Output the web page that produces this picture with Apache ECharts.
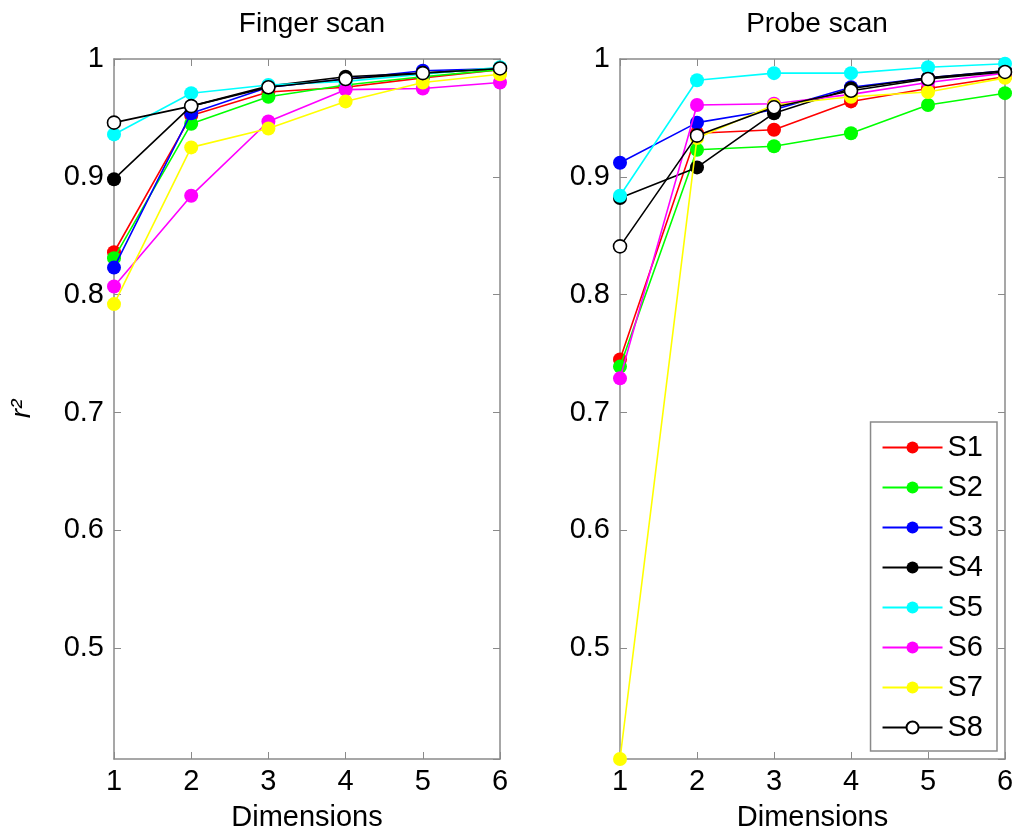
<!DOCTYPE html>
<html>
<head>
<meta charset="utf-8">
<script src="https://cdn.jsdelivr.net/npm/echarts@6/dist/echarts.min.js"></script>
<style>
  html, body { margin: 0; padding: 0; background: #fff; }
  #chart { width: 1020px; height: 840px; }
</style>
</head>
<body>
<div id="chart"></div>
<script>
// Dimensioni (asse x)
const dims = [1, 2, 3, 4, 5, 6];
const names = ['S1', 'S2', 'S3', 'S4', 'S5', 'S6', 'S7', 'S8'];
const colori = ['#ff0000', '#00ff00', '#0000ff', '#000000', '#00ffff', '#ff00ff', '#ffff00', '#000000'];

// Finger scan
const fingerS1 = [0.836, 0.952, 0.972, 0.976, 0.984, 0.991];
const fingerS2 = [0.831, 0.945, 0.968, 0.978, 0.985, 0.991];
const fingerS3 = [0.823, 0.954, 0.976, 0.983, 0.990, 0.992];
const fingerS4 = [0.898, 0.960, 0.977, 0.985, 0.988, 0.992];
const fingerS5 = [0.936, 0.971, 0.978, 0.981, 0.987, 0.993];
const fingerS6 = [0.807, 0.884, 0.947, 0.974, 0.975, 0.980];
const fingerS7 = [0.792, 0.925, 0.941, 0.964, 0.980, 0.987];
const fingerS8 = [0.946, 0.960, 0.976, 0.983, 0.988, 0.992];

// Probe scan
const probeS1 = [0.745, 0.937, 0.940, 0.964, 0.975, 0.985];
const probeS2 = [0.739, 0.923, 0.926, 0.937, 0.961, 0.971];
const probeS3 = [0.912, 0.946, 0.957, 0.976, 0.984, 0.990];
const probeS4 = [0.882, 0.908, 0.954, 0.975, 0.984, 0.990];
const probeS5 = [0.884, 0.982, 0.988, 0.988, 0.993, 0.996];
const probeS6 = [0.729, 0.961, 0.962, 0.970, 0.980, 0.988];
const probeS7 = [0.406, 0.933, 0.961, 0.968, 0.972, 0.984];
const probeS8 = [0.841, 0.935, 0.959, 0.973, 0.983, 0.989];

const yMin = 0.406, yMax = 1;

const finger = [fingerS1, fingerS2, fingerS3, fingerS4, fingerS5, fingerS6, fingerS7, fingerS8];
const probe = [probeS1, probeS2, probeS3, probeS4, probeS5, probeS6, probeS7, probeS8];

const font = 'Liberation Sans, Arial, sans-serif';
const grigio = '#8a8a8a';

function makeSeries(arr, gi) {
  return arr.map((vals, i) => ({
    name: names[i],
    type: 'line',
    xAxisIndex: gi * 2,
    yAxisIndex: gi * 2,
    data: vals.map((v, k) => [dims[k], v]),
    symbol: 'circle',
    symbolSize: i === 7 ? 13 : 14,
    lineStyle: { color: colori[i], width: 1.6 },
    itemStyle: i === 7
      ? { color: '#ffffff', borderColor: '#000000', borderWidth: 1.6 }
      : { color: colori[i], borderWidth: 0 },
    emphasis: { disabled: true },
    z: 2 + i
  }));
}

function xAxes(gi) {
  return [
    {
      type: 'value', gridIndex: gi, min: 1, max: 6, interval: 1,
      name: 'Dimensions', nameLocation: 'middle', nameGap: 44,
      nameTextStyle: { fontFamily: font, fontSize: 29, color: '#000' },
      axisLine: { lineStyle: { color: grigio, width: 1.5 } },
      axisTick: { inside: true, length: 7, lineStyle: { color: grigio } },
      axisLabel: { fontFamily: font, fontSize: 29, color: '#000', margin: 8 },
      splitLine: { show: false }
    },
    {
      type: 'value', gridIndex: gi, min: 1, max: 6, interval: 1, position: 'top',
      axisLine: { lineStyle: { color: grigio, width: 1.5 } },
      axisTick: { inside: true, length: 7, lineStyle: { color: grigio } },
      axisLabel: { show: false },
      splitLine: { show: false }
    }
  ];
}

function yAxes(gi) {
  return [
    {
      type: 'value', gridIndex: gi, min: yMin, max: yMax, minInterval: 0.1, maxInterval: 0.1,
      name: gi === 0 ? 'r²' : '', nameLocation: 'middle', nameGap: 78, nameRotate: 90,
      nameTextStyle: { fontFamily: font, fontSize: 28, fontStyle: 'italic', color: '#000' },
      axisLine: { show: true, lineStyle: { color: grigio, width: 1.5 } },
      axisTick: { show: true, inside: true, length: 7, lineStyle: { color: grigio } },
      axisLabel: { fontFamily: font, fontSize: 29, color: '#000', margin: 10, showMinLabel: false },
      splitLine: { show: false }
    },
    {
      type: 'value', gridIndex: gi, min: yMin, max: yMax, minInterval: 0.1, maxInterval: 0.1, position: 'right',
      axisLine: { show: true, lineStyle: { color: grigio, width: 1.5 } },
      axisTick: { show: true, inside: true, length: 7, lineStyle: { color: grigio } },
      axisLabel: { show: false },
      splitLine: { show: false }
    }
  ];
}

var grafico = echarts.init(document.getElementById('chart'));
var option = {
  backgroundColor: '#ffffff',
  animation: false,
  title: [
    { text: 'Finger scan', left: 307, top: 5, textAlign: 'center',
      textStyle: { fontFamily: font, fontSize: 28, fontWeight: 'normal', color: '#000' } },
    { text: 'Probe scan', left: 812, top: 5, textAlign: 'center',
      textStyle: { fontFamily: font, fontSize: 28, fontWeight: 'normal', color: '#000' } }
  ],
  grid: [
    { left: 114, right: 520, top: 59, bottom: 81 },
    { left: 620, right: 15, top: 59, bottom: 81 }
  ],
  xAxis: xAxes(0).concat(xAxes(1)),
  yAxis: yAxes(0).concat(yAxes(1)),
  legend: {
    data: names,
    orient: 'vertical',
    right: 23,
    top: 422,
    backgroundColor: '#ffffff',
    borderColor: grigio,
    borderWidth: 1.5,
    padding: [11, 14, 9, 11],
    itemWidth: 60,
    itemHeight: 15,
    itemGap: 11,
    textStyle: { fontFamily: font, fontSize: 29, color: '#000' },
    selectedMode: false,
    z: 20
  },
  series: makeSeries(finger, 0).concat(makeSeries(probe, 1))
};
grafico.setOption(option);
</script>
</body>
</html>
